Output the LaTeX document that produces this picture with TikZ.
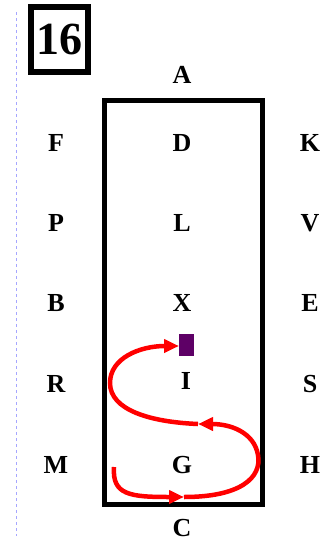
\documentclass[tikz,border=0pt]{standalone}
\usepackage{fontspec}
\setmainfont{Liberation Serif}
\usetikzlibrary{arrows.meta}
\begin{document}
\begin{tikzpicture}[x=1pt,y=-1pt,
  lbl/.style={font=\fontsize{26}{26}\selectfont\bfseries, anchor=base, inner sep=0pt},
  redarrow/.style={draw=red, line width=4.5pt, -{Triangle[length=15pt,width=13pt]}}]
\useasboundingbox (0,0) rectangle (326,541);
\draw[draw=blue!35, dashed, line width=0.8pt] (16,12) -- (16,536);
\node[draw, line width=6pt, minimum width=57pt, minimum height=65pt, inner sep=0pt,
  font=\fontsize{46}{46}\selectfont\bfseries] (num) at (59,39) {16};
\node[draw, line width=5pt, minimum width=158pt, minimum height=404pt] (field) at (183.5,302.5) {};
% letters
\foreach \t/\x/\y in {A/182/74, F/56/142, D/182/142, K/310/142,
  P/56/222, L/182/222, V/310/222, B/56/302, X/182/302, E/310/302,
  R/56/383, I/186/380, S/310/383, M/56/464, G/182/464, H/310/464, C/182/527}
  \node[lbl] (l\t) at (\x,\y+9) {\t};
\fill[fill={rgb,255:red,94;green,0;blue,102}] (179,334) rectangle (194,356);
\coordinate (s0) at (114,467);
\coordinate (s1) at (184,497);
\coordinate (s2) at (198,424);
\coordinate (s3) at (179,346);
\draw[redarrow] (s0) .. controls (112,495) and (130,497) .. (s1);
\draw[redarrow] (s1) .. controls (240,497) and (262,478) .. (258,455)
   .. controls (254,432) and (230,424) .. (s2);
\draw[redarrow] (s2) .. controls (150,422) and (110,410) .. (110,383)
   .. controls (110,358) and (140,346) .. (s3);
\end{tikzpicture}
\end{document}
